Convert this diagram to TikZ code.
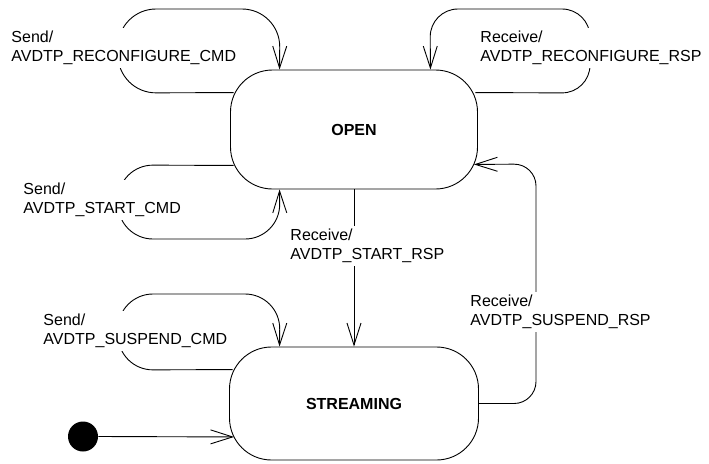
\documentclass[tikz,border=0pt]{standalone}
\usepackage{fontspec}
\setmainfont{Liberation Sans}
\usetikzlibrary{arrows.meta}
\begin{document}
\begin{tikzpicture}[x=1pt,y=-1pt,
  font=\fontsize{16}{19.5}\selectfont,
  line width=0.9pt,
  state/.style={draw, rounded corners=42pt, font=\fontsize{16}{19.5}\selectfont\bfseries, inner sep=0pt},
  lbl/.style={fill=white, align=left, anchor=west, inner sep=3pt},
  arr/.style={-{Straight Barb[length=22pt,width=14pt]}},
  initstate/.style={circle, fill=black, minimum size=30pt, inner sep=0pt}]
\useasboundingbox (0,0) rectangle (709,463);

\node[state, minimum width=247pt, minimum height=119pt] (open) at (354,129.5) {OPEN};
\node[state, minimum width=249pt, minimum height=113pt] (streaming) at (354,403.5) {STREAMING};
\node[initstate] (init) at (83,436.5) {};

% Send/AVDTP_RECONFIGURE_CMD loop
\draw[arr] ([shift={(3.5,23)}]open.north west) [rounded corners=38pt] -- (118,93) -- (118,9) -- (280,9) [rounded corners=25pt] -- ([shift={(49.5,0)}]open.north west);
% Receive/AVDTP_RECONFIGURE_RSP loop
\draw[arr] ([shift={(-2.5,23)}]open.north east) [rounded corners=28pt] -- (590,93) -- (590,9) -- (430,9) [rounded corners=25pt] -- ([shift={(-47.5,0)}]open.north east);
% Send/AVDTP_START_CMD loop
\draw[arr] ([shift={(3.5,-24)}]open.south west) [rounded corners=35pt] -- (118,165) -- (118,239) -- (280,239) [rounded corners=25pt] -- ([shift={(49.5,0)}]open.south west);
% Receive/AVDTP_START_RSP
\draw[arr] (open.south) -- (streaming.north);
% Send/AVDTP_SUSPEND_CMD loop
\draw[arr] ([shift={(3.5,23)}]streaming.north west) [rounded corners=35pt] -- (118,370) -- (118,294) -- (280,294) [rounded corners=25pt] -- ([shift={(50.5,0)}]streaming.north west);
% Receive/AVDTP_SUSPEND_RSP
\draw[arr] (streaming.east) [rounded corners=22pt] -- (536,403.5) -- (536,164) [rounded corners=28pt] -- ([shift={(-4,-25)}]open.south east);
% initial
\draw[arr] (init.east) -- ([shift={(5,-23.5)}]streaming.south west);

% labels
\node[lbl] (l1) at (8,48) {Send/\\AVDTP\_RECONFIGURE\_CMD};
\node[lbl] (l2) at (477,48) {Receive/\\AVDTP\_RECONFIGURE\_RSP};
\node[lbl] (l3) at (20,200) {Send/\\AVDTP\_START\_CMD};
\node[lbl] (l4) at (287,246) {Receive/\\AVDTP\_START\_RSP};
\node[lbl] (l5) at (40,331) {Send/\\AVDTP\_SUSPEND\_CMD};
\node[lbl] (l6) at (467,312) {Receive/\\AVDTP\_SUSPEND\_RSP};
\end{tikzpicture}
\end{document}
